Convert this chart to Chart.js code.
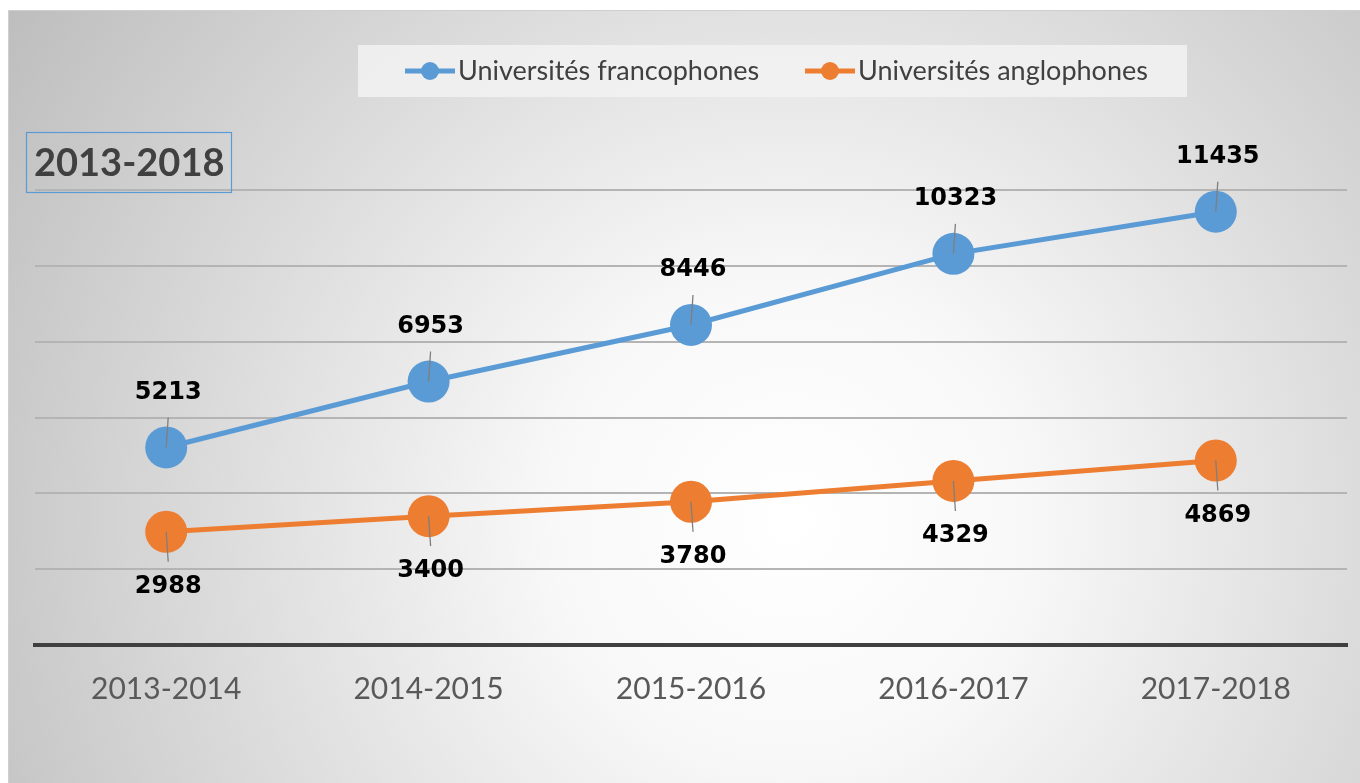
<!DOCTYPE html>
<html>
<head>
<meta charset="utf-8">
<title>Universités 2013-2018</title>
<script src="https://cdn.jsdelivr.net/npm/chart.js@4/dist/chart.umd.min.js"></script>
<style>
  html, body { margin: 0; padding: 0; background: #fff; }
  #chart { display: block; }
</style>
</head>
<body>
<canvas id="chart" width="1360" height="783"></canvas>
<script>
// data
const categories = ['2013-2014', '2014-2015', '2015-2016', '2016-2017', '2017-2018'];
const francophones = [5213, 6953, 8446, 10323, 11435];
const anglophones = [2988, 3400, 3780, 4329, 4869];
const seriesNames = ['Universités francophones', 'Universités anglophones'];
const chartTitle = '2013-2018';
const yMax = 14000;
const yStep = 2000;

const BLUE = '#5b9bd5';
const ORANGE = '#ed7d31';

// grey radial backdrop with thin frame
const backdrop = {
  id: 'backdrop',
  beforeDraw(chart) {
    const ctx = chart.ctx;
    ctx.save();
    ctx.fillStyle = '#fff';
    ctx.fillRect(0, 0, chart.width, chart.height);
    const g = ctx.createRadialGradient(790, 520, 0, 790, 520, 950);
    g.addColorStop(0, '#ffffff');
    g.addColorStop(0.25, '#f8f8f8');
    g.addColorStop(1, '#bcbcbc');
    ctx.fillStyle = g;
    ctx.fillRect(8.5, 10.5, chart.width - 8, chart.height - 10);
    ctx.strokeStyle = '#cfcfcf';
    ctx.lineWidth = 1;
    ctx.strokeRect(8.5, 10.5, chart.width, chart.height);
    ctx.restore();
  }
};

// legend box at the top, drawn from the datasets
const topLegend = {
  id: 'topLegend',
  afterDraw(chart) {
    const ctx = chart.ctx;
    ctx.save();
    ctx.fillStyle = 'rgba(242,242,242,0.85)';
    ctx.fillRect(358, 45, 829, 52);
    const starts = [405, 805];
    ctx.font = '27px Lato';
    ctx.textBaseline = 'middle';
    chart.data.datasets.forEach((ds, i) => {
      const x = starts[i], y = 71;
      ctx.strokeStyle = ds.borderColor;
      ctx.lineWidth = 5;
      ctx.beginPath();
      ctx.moveTo(x, y);
      ctx.lineTo(x + 50, y);
      ctx.stroke();
      ctx.fillStyle = ds.borderColor;
      ctx.beginPath();
      ctx.arc(x + 25, y, 9, 0, Math.PI * 2);
      ctx.fill();
      ctx.fillStyle = '#404040';
      ctx.textAlign = 'left';
      ctx.fillText(ds.label, x + 53, y);
    });
    ctx.restore();
  }
};

// boxed period title in the upper left
const periodTitle = {
  id: 'periodTitle',
  afterDraw(chart) {
    const ctx = chart.ctx;
    ctx.save();
    ctx.strokeStyle = BLUE;
    ctx.lineWidth = 1.2;
    ctx.strokeRect(26.5, 132.5, 205, 60);
    ctx.fillStyle = '#404040';
    ctx.font = 'bold 38px Lato';
    ctx.textAlign = 'left';
    ctx.textBaseline = 'middle';
    ctx.fillText(chartTitle, 34, 164);
    ctx.restore();
  }
};

// value labels with little leader lines
const valueLabels = {
  id: 'valueLabels',
  afterDatasetsDraw(chart) {
    const ctx = chart.ctx;
    ctx.save();
    ctx.font = 'bold 24px "DejaVu Sans"';
    ctx.textAlign = 'center';
    ctx.textBaseline = 'middle';
    chart.data.datasets.forEach((ds, i) => {
      const dir = i === 0 ? -1 : 1;
      chart.getDatasetMeta(i).data.forEach((pt, j) => {
        ctx.strokeStyle = '#7f7f7f';
        ctx.lineWidth = 1.3;
        ctx.beginPath();
        ctx.moveTo(pt.x, pt.y);
        ctx.lineTo(pt.x + 2, pt.y + dir * 30);
        ctx.stroke();
        ctx.fillStyle = '#000';
        ctx.fillText(String(ds.data[j]), pt.x + 2, pt.y + dir * 55);
      });
    });
    ctx.restore();
  }
};

new Chart(document.getElementById('chart'), {
  type: 'line',
  data: {
    labels: categories,
    datasets: [
      { label: seriesNames[0], data: francophones, borderColor: BLUE, backgroundColor: BLUE,
        borderWidth: 5, pointRadius: 21, pointBorderWidth: 0, pointBackgroundColor: BLUE, clip: false },
      { label: seriesNames[1], data: anglophones, borderColor: ORANGE, backgroundColor: ORANGE,
        borderWidth: 5, pointRadius: 21, pointBorderWidth: 0, pointBackgroundColor: ORANGE, clip: false }
    ]
  },
  options: {
    responsive: false,
    animation: false,
    layout: { autoPadding: false, padding: { left: 35, right: 13, top: 114.5, bottom: 50 } },
    plugins: {
      legend: { display: false },
      title: { display: false },
      tooltip: { enabled: false }
    },
    scales: {
      x: {
        offset: true,
        grid: { display: false, drawTicks: false },
        border: { display: true, color: '#404040', width: 4 },
        ticks: { color: '#595959', font: { family: 'Lato', size: 30 }, padding: 26 }
      },
      y: {
        min: 0,
        max: yMax,
        ticks: { display: false, stepSize: yStep },
        border: { display: false },
        grid: {
          drawTicks: false,
          lineWidth: 2,
          color: c => (c.tick.value === 0 || c.tick.value === yMax) ? 'rgba(0,0,0,0)' : '#b4b4b4'
        }
      }
    }
  },
  plugins: [backdrop, valueLabels, periodTitle, topLegend]
});
</script>
</body>
</html>
